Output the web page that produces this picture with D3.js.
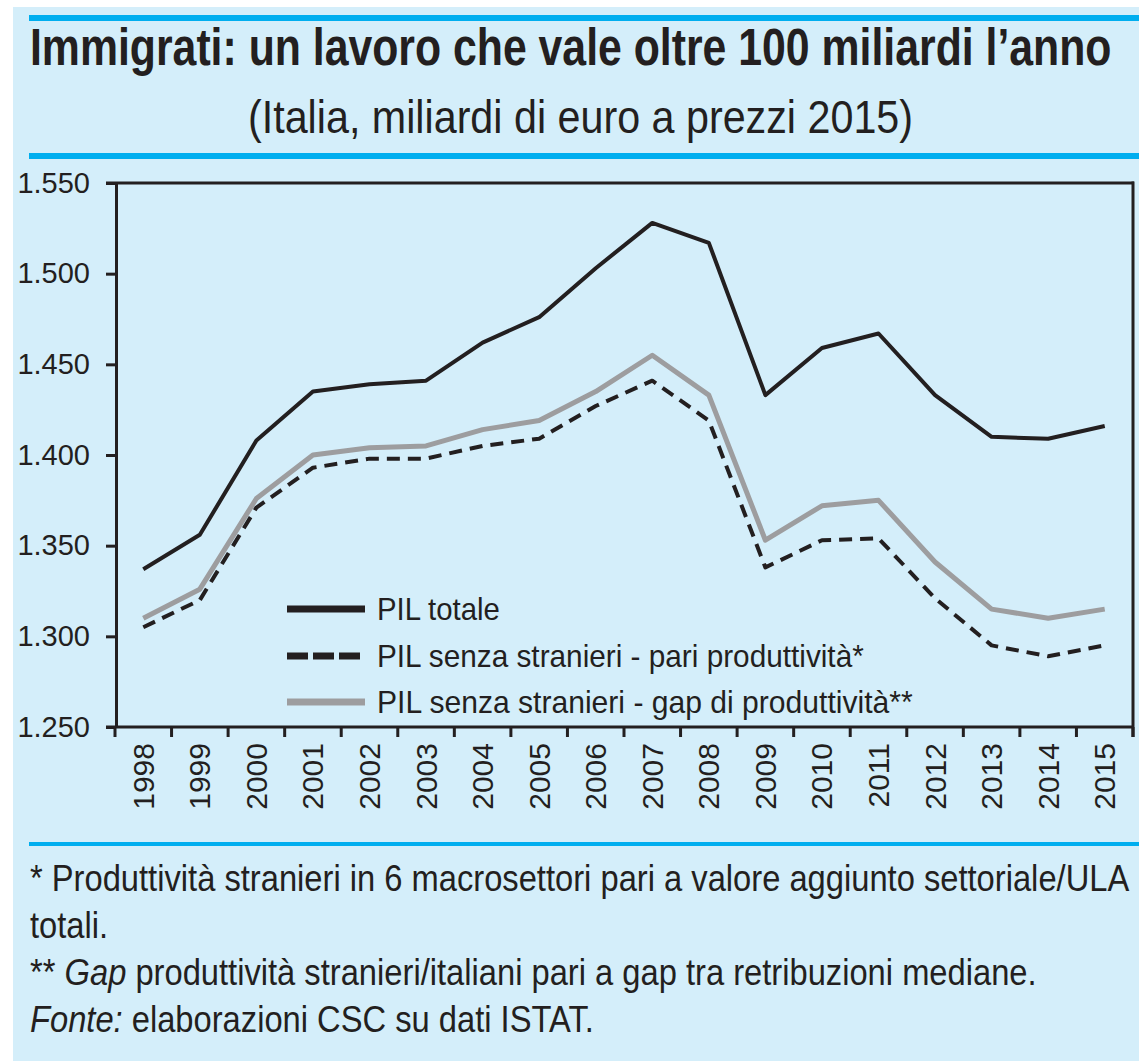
<!DOCTYPE html>
<html>
<head>
    <meta charset="utf-8">
    <title>Immigrati: un lavoro che vale oltre 100 miliardi l'anno</title>
    <script src="https://d3js.org/d3.v7.min.js"></script>
    <style>
        body { margin: 0; padding: 0; background: white; }
        svg { display: block; }
        .narrow { font-family: 'Liberation Sans Narrow', 'Arial Narrow', 'Liberation Sans', Arial, sans-serif; fill: #231f20; }
    </style>
</head>
<body>
    <svg id="chart" width="1139" height="1061"></svg>
    <script>
        // data (miliardi di euro a prezzi 2015)
        const years = ['1998','1999','2000','2001','2002','2003','2004','2005','2006',
                       '2007','2008','2009','2010','2011','2012','2013','2014','2015'];
        const pilTotale = [1337, 1356, 1408, 1435, 1439, 1441, 1462, 1476, 1503,
                           1528, 1517, 1433, 1459, 1467, 1433, 1410, 1409, 1416];
        const pilPari   = [1305, 1320, 1371, 1393, 1398, 1398, 1405, 1409, 1427,
                           1441, 1419, 1338, 1353, 1354, 1321, 1295, 1289, 1295];
        const pilGap    = [1310, 1326, 1376, 1400, 1404, 1405, 1414, 1419, 1435,
                           1455, 1433, 1353, 1372, 1375, 1341, 1315, 1310, 1315];
        const yTicks = [1250, 1300, 1350, 1400, 1450, 1500, 1550];
        const legendLabels = ['PIL totale',
                              'PIL senza stranieri - pari produttività*',
                              'PIL senza stranieri - gap di produttività**'];

        const ink = '#231f20';
        const cyan = '#00aeef';
        const grey = '#9d9d9f';
        const svg = d3.select('#chart');

        // shrink (or slightly grow) a text's font size so its natural width fits
        function fit(sel, width, size) {
            sel.attr('font-size', size);
            const w = sel.node().getComputedTextLength();
            const k = Math.max(0.75, Math.min(1.1, width / w));
            sel.attr('font-size', (size * k).toFixed(2));
            return sel;
        }
        // the original uses a condensed face: stretch glyphs upward to the measured cap height
        function tall(sel, baseline, cap) {
            const fs = +sel.attr('font-size');
            const sy = Math.max(1, cap / (0.72 * fs));
            sel.attr('transform', `translate(0,${baseline}) scale(1,${sy.toFixed(3)}) translate(0,${-baseline})`);
            return sel;
        }

        // background panel + blue rules
        svg.append('rect').attr('x', 13).attr('y', 7).attr('width', 1126).attr('height', 1054).attr('fill', '#d4eefa');
        [[18, 6], [156, 6], [844, 4]].forEach(([y, w]) => {
            svg.append('line').attr('x1', 29).attr('x2', 1139).attr('y1', y).attr('y2', y)
                .attr('stroke', cyan).attr('stroke-width', w);
        });

        // titles
        const t1 = svg.append('text').attr('class', 'narrow')
            .attr('x', 30).attr('y', 65)
            .attr('font-weight', 'bold')
            .text('Immigrati: un lavoro che vale oltre 100 miliardi l\u2019anno');
        tall(fit(t1, 1082, 50), 65, 37);
        const t2 = svg.append('text').attr('class', 'narrow')
            .attr('x', 248).attr('y', 133)
            .text('(Italia, miliardi di euro a prezzi 2015)');
        tall(fit(t2, 665, 46), 133, 33);

        // scales
        const x = d3.scaleBand().domain(years).range([115, 1133]).padding(0);
        const y = d3.scaleLinear().domain([1250, 1550]).range([727, 183]);
        const cx = d => x(d) + x.bandwidth() / 2;

        // y axis
        const itFormat = d3.formatLocale({ decimal: ',', thousands: '.', grouping: [3], currency: ['€', ''] }).format(',');
        const yAxis = svg.append('g')
            .attr('transform', 'translate(116,0)')
            .call(d3.axisLeft(y).tickValues(yTicks).tickFormat(itFormat).tickSize(10).tickSizeOuter(0));
        yAxis.select('.domain').attr('stroke', ink).attr('stroke-width', 3);
        yAxis.selectAll('.tick line').attr('stroke', ink).attr('stroke-width', 3);
        yAxis.selectAll('.tick text')
            .attr('class', 'narrow').attr('font-size', 29).attr('x', -26)
            .attr('fill', ink);

        // frame: top and right
        svg.append('line').attr('x1', 106).attr('x2', 1134).attr('y1', y(1550)).attr('y2', y(1550))
            .attr('stroke', ink).attr('stroke-width', 3);
        svg.append('line').attr('x1', 1133).attr('x2', 1133).attr('y1', y(1550) - 1.5).attr('y2', y(1250) + 10)
            .attr('stroke', ink).attr('stroke-width', 3);

        // x axis line, boundary ticks and rotated year labels
        svg.append('line').attr('x1', 106).attr('x2', 1134).attr('y1', y(1250)).attr('y2', y(1250))
            .attr('stroke', ink).attr('stroke-width', 3);
        const bounds = years.map(d => x(d)).concat([x(years[years.length - 1]) + x.bandwidth()]);
        svg.append('g').selectAll('line').data(bounds).join('line')
            .attr('x1', d => d).attr('x2', d => d)
            .attr('y1', y(1250)).attr('y2', y(1250) + 10)
            .attr('stroke', ink).attr('stroke-width', 3);
        svg.append('g').selectAll('text').data(years).join('text')
            .attr('class', 'narrow')
            .attr('font-size', 30)
            .attr('text-anchor', 'end')
            .attr('transform', d => `translate(${cx(d)},743) rotate(-90)`)
            .attr('dy', '0.35em')
            .text(d => d);

        // lines
        const series = [
            { values: pilGap, stroke: grey, width: 5, dash: null },
            { values: pilPari, stroke: ink, width: 4, dash: '13,8' },
            { values: pilTotale, stroke: ink, width: 4, dash: null }
        ];
        const line = d3.line().x((d, i) => cx(years[i])).y(d => y(d));
        series.forEach(s => {
            svg.append('path')
                .datum(s.values)
                .attr('fill', 'none')
                .attr('stroke', s.stroke)
                .attr('stroke-width', s.width)
                .attr('stroke-linejoin', 'round')
                .attr('stroke-dasharray', s.dash)
                .attr('d', line);
        });

        // legend
        const legendRows = [609, 656, 702];
        const legendStyle = [
            { stroke: ink, dash: null },
            { stroke: ink, dash: '21,5' },
            { stroke: grey, dash: null }
        ];
        const legendLen = [123, 487, 536];
        legendLabels.forEach((lab, i) => {
            svg.append('line')
                .attr('x1', 287).attr('x2', 365)
                .attr('y1', legendRows[i]).attr('y2', legendRows[i])
                .attr('stroke', legendStyle[i].stroke)
                .attr('stroke-width', 7)
                .attr('stroke-dasharray', legendStyle[i].dash);
            const t = svg.append('text').attr('class', 'narrow')
                .attr('x', 377).attr('y', legendRows[i] + 11)
                .text(lab);
            tall(fit(t, legendLen[i], 31), legendRows[i] + 11, 23);
        });

        // footnotes
        const notes = svg.append('g').attr('class', 'narrow');
        const n1 = notes.append('text').attr('x', 30).attr('y', 891)
            .text('* Produttività stranieri in 6 macrosettori pari a valore aggiunto settoriale/ULA');
        fit(n1, 1100, 37);
        const noteSize = n1.attr('font-size');
        tall(n1, 891, 27);
        const n2 = notes.append('text').attr('x', 30).attr('y', 938).attr('font-size', noteSize)
            .text('totali.');
        tall(n2, 938, 27);
        const n3 = notes.append('text').attr('x', 30).attr('y', 985).attr('font-size', noteSize);
        n3.append('tspan').text('** ');
        n3.append('tspan').attr('font-style', 'italic').text('Gap');
        n3.append('tspan').text(' produttività stranieri/italiani pari a gap tra retribuzioni mediane.');
        tall(n3, 985, 27);
        const n4 = notes.append('text').attr('x', 30).attr('y', 1032).attr('font-size', noteSize);
        n4.append('tspan').attr('font-style', 'italic').text('Fonte:');
        n4.append('tspan').text(' elaborazioni CSC su dati ISTAT.');
        tall(n4, 1032, 27);
    </script>
</body>
</html>
